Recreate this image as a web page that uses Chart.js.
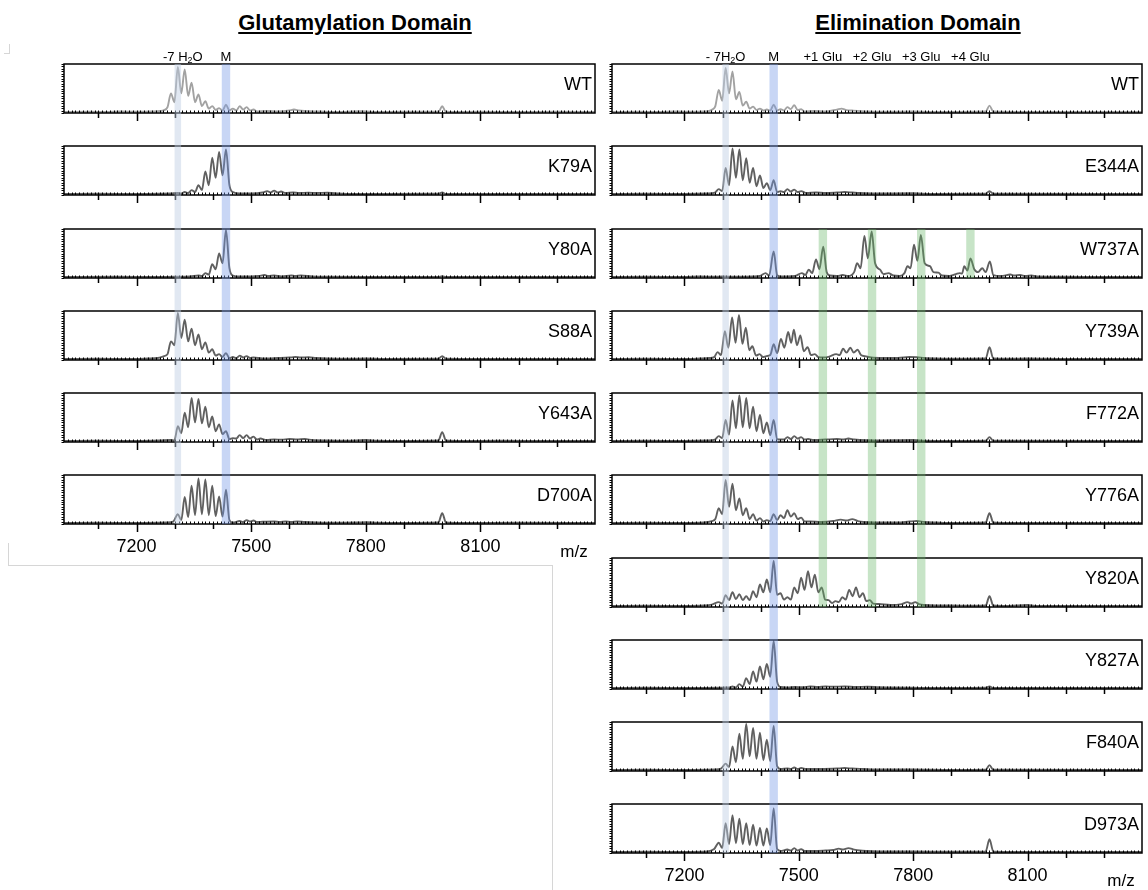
<!DOCTYPE html>
<html>
<head>
<meta charset="utf-8">
<script src="https://cdn.jsdelivr.net/npm/chart.js@4.4.1/dist/chart.umd.min.js"></script>
<style>
  html, body { margin: 0; padding: 0; background: #fff; }
  body { width: 1148px; height: 890px; position: relative; overflow: hidden;
         font-family: "Liberation Sans", Arial, Helvetica, sans-serif; }
  .title { position: absolute; top: 10px; line-height: 25px; font-size: 22px; font-weight: bold;
           text-decoration: underline; white-space: nowrap; transform: translateX(-50%); }
  canvas { position: absolute; }
  .rule { position: absolute; background: #d6d6d6; }
</style>
</head>
<body>
<div class="title" style="left:355px">Glutamylation Domain</div>
<div class="title" style="left:918px">Elimination Domain</div>
<div class="rule" style="left:9px;top:44px;width:1px;height:9px"></div>
<div class="rule" style="left:4px;top:53px;width:6px;height:1px"></div>
<div class="rule" style="left:8px;top:543px;width:1px;height:22px"></div>
<div class="rule" style="left:8px;top:565px;width:545px;height:1px"></div>
<div class="rule" style="left:552px;top:565px;width:1px;height:325px"></div>
<script>
// m/z axis
const mzRange = [7010, 8400];
const tickMz = [7100, 7200, 7300, 7400, 7500, 7600, 7700, 7800, 7900, 8000, 8100, 8200, 8300];
const labelledMz = [7200, 7500, 7800, 8100];

// marker masses
const waterLossMz = 7308;
const parentMz = 7434;
const gluMz = [7563, 7692, 7821, 7950];

const glutNames = ['WT', 'K79A', 'Y80A', 'S88A', 'Y643A', 'D700A'];
const elimNames = ['WT', 'E344A', 'W737A', 'Y739A', 'F772A', 'Y776A', 'Y820A', 'Y827A', 'F840A', 'D973A'];
const glutMarkText = ['-7 H_2O', 'M'];
const elimMarkText = ['- 7H_2O', 'M', '+1 Glu', '+2 Glu', '+3 Glu', '+4 Glu'];

// spectra as [m/z, relative intensity]
const glutWT = [[7010,2],[7080,2.5],[7120,2],[7160,3],[7200,2.5],[7240,3],[7262,4],[7272,6],[7281,12],[7290,40],[7299,22],[7308,94],[7317,40],[7326,89],[7335,35],[7344,62],[7353,22],[7362,38],[7371,14],[7380,24],[7389,9],[7398,14],[7407,6],[7416,10],[7425,5],[7434,17],[7443,5],[7452,9],[7461,5],[7470,14],[7479,7],[7488,12],[7497,5],[7506,7],[7515,3],[7540,4],[7570,3],[7600,5],[7612,7],[7625,5],[7640,4],[7680,3],[7720,2],[7790,3.5],[7830,2],[7900,2.5],[7980,2.5],[7992,4],[8000,14],[8008,4],[8020,2],[8100,2.5],[8200,2],[8300,2.5],[8400,2]];
const glutK79A = [[7010,2],[7100,2.5],[7200,2],[7260,2.5],[7290,3],[7308,4],[7317,3],[7326,6],[7335,4],[7344,10],[7353,6],[7362,20],[7371,10],[7380,48],[7389,20],[7398,76],[7407,35],[7416,88],[7425,40],[7434,93],[7443,20],[7452,6],[7470,3],[7500,3],[7530,5],[7542,8],[7551,5],[7560,9],[7569,5],[7578,7],[7590,4],[7610,5],[7625,4],[7650,4.5],[7670,4],[7700,4.5],[7730,3],[7760,2],[7850,2],[7990,2.5],[8000,5],[8010,2],[8100,2],[8250,2],[8400,2]];
const glutY80A = [[7010,2],[7150,2.5],[7250,2],[7300,2.5],[7340,3],[7362,5],[7371,4],[7380,10],[7389,7],[7398,28],[7407,18],[7416,50],[7425,30],[7434,98],[7443,20],[7452,5],[7470,3],[7500,3],[7520,4],[7535,6],[7545,4],[7560,5],[7580,3],[7605,5],[7615,4],[7630,5],[7660,3],[7700,2.5],[7800,2],[7990,2],[8000,3.5],[8010,2],[8100,2],[8400,2]];
const glutS88A = [[7010,2],[7100,2.5],[7180,2],[7230,3],[7255,4],[7272,8],[7281,12],[7290,38],[7299,30],[7308,96],[7317,45],[7326,82],[7335,38],[7344,64],[7353,30],[7362,52],[7371,22],[7380,36],[7389,15],[7398,22],[7407,9],[7416,12],[7425,6],[7434,14],[7443,4],[7452,6],[7461,4],[7470,9],[7479,5],[7488,8],[7497,4],[7506,5],[7530,3],[7570,4],[7600,5],[7615,6],[7630,5],[7650,5.5],[7670,4],[7700,3],[7760,2.5],[7800,3],[7850,2],[7990,2.5],[8000,8],[8010,2.5],[8100,2],[8400,2]];
const glutY643A = [[7010,2],[7100,2.5],[7200,2],[7260,3],[7290,4],[7299,3],[7308,32],[7317,18],[7326,60],[7335,30],[7344,90],[7353,40],[7362,88],[7371,38],[7380,72],[7389,30],[7398,52],[7407,22],[7416,36],[7425,16],[7434,22],[7443,6],[7452,8],[7461,7],[7470,14],[7479,8],[7488,14],[7497,7],[7506,11],[7515,5],[7524,7],[7540,4],[7560,5],[7580,4.5],[7600,6],[7620,5],[7640,6],[7660,4],[7700,3],[7750,2.5],[7800,4],[7830,2.5],[7900,2],[7990,3],[8000,20],[8010,3],[8050,2],[8150,2.5],[8300,2],[8400,2]];
const glutD700A = [[7010,2],[7100,2.5],[7200,2],[7280,3],[7296,5],[7308,20],[7317,8],[7326,55],[7335,14],[7344,78],[7353,18],[7362,93],[7371,20],[7380,91],[7389,18],[7398,78],[7407,16],[7416,56],[7425,15],[7434,70],[7443,8],[7452,3],[7470,6],[7479,4],[7488,8],[7497,5],[7506,7],[7515,4],[7530,4.5],[7560,5],[7575,4],[7590,5],[7605,4],[7620,5],[7640,4],[7670,3],[7700,2.5],[7780,3],[7800,3.5],[7830,2.5],[7900,2],[7990,3],[8000,22],[8010,3],[8050,2],[8200,2.5],[8400,2]];

const elimWT = [[7010,2],[7080,2.5],[7130,2],[7180,3],[7220,2.5],[7250,3],[7265,4],[7275,8],[7281,14],[7290,47],[7299,25],[7308,92],[7317,40],[7326,85],[7335,28],[7344,43],[7353,15],[7362,23],[7371,9],[7380,13],[7389,6],[7398,9],[7407,5],[7416,7],[7425,5],[7434,17],[7443,5],[7452,8],[7461,5],[7470,12],[7479,8],[7488,16],[7497,6],[7506,8],[7515,3],[7540,4],[7570,3],[7600,7],[7612,9],[7625,6],[7640,5],[7680,3],[7720,2.5],[7800,3],[7850,2],[7990,3],[8000,15],[8010,3],[8100,2],[8400,2]];
const elimE344A = [[7010,2],[7100,2.5],[7200,2],[7260,3],[7280,5],[7290,12],[7299,8],[7308,55],[7317,20],[7326,95],[7335,35],[7344,93],[7353,30],[7362,75],[7371,25],[7380,55],[7389,18],[7398,40],[7407,14],[7416,24],[7425,10],[7434,30],[7443,6],[7452,8],[7461,6],[7470,12],[7479,7],[7488,11],[7497,6],[7506,8],[7520,4],[7545,5],[7570,4],[7600,5],[7620,6],[7640,5],[7660,4],[7700,3],[7800,3.5],[7850,2],[7990,2.5],[8000,8],[8010,2.5],[8400,2]];
const elimW737A = [[7010,2],[7100,2.5],[7200,2],[7240,3],[7280,2.5],[7300,3],[7340,2.5],[7380,3],[7398,4],[7413,10],[7422,5],[7434,54],[7443,6],[7452,3],[7470,3],[7490,4],[7508,10],[7517,6],[7526,17],[7535,10],[7545,38],[7554,18],[7564,64],[7573,12],[7582,5],[7600,4],[7615,6],[7630,4],[7645,12],[7653,30],[7662,20],[7672,86],[7681,40],[7691,95],[7700,30],[7713,17],[7722,8],[7735,10],[7748,5],[7765,4],[7777,10],[7785,24],[7793,20],[7802,68],[7811,35],[7820,88],[7830,30],[7844,24],[7853,12],[7866,11],[7875,5],[7895,4],[7912,8],[7922,10],[7928,9],[7934,24],[7942,15],[7950,40],[7960,18],[7970,12],[7981,20],[7990,12],[8001,34],[8010,6],[8030,4],[8055,7],[8065,5],[8080,6],[8095,4],[8110,5],[8125,3],[8200,2.5],[8300,2],[8400,2]];
const elimY739A = [[7010,2],[7100,2.5],[7200,2],[7240,3],[7265,4],[7278,6],[7287,16],[7296,10],[7306,59],[7315,25],[7325,87],[7334,35],[7343,92],[7352,33],[7361,66],[7370,20],[7378,28],[7388,9],[7397,12],[7406,6],[7415,8],[7425,10],[7434,32],[7443,14],[7453,43],[7462,25],[7472,57],[7480,35],[7487,62],[7495,30],[7504,50],[7513,18],[7523,26],[7532,10],[7542,12],[7551,6],[7565,5],[7580,7],[7598,12],[7607,10],[7616,23],[7625,15],[7635,25],[7644,15],[7654,21],[7663,10],[7673,8],[7690,5],[7720,4],[7760,4],[7790,6],[7810,5.5],[7830,4],[7860,3],[7900,2.5],[7990,3],[8000,26],[8010,3],[8050,2.5],[8100,3],[8200,2],[8400,2]];
const elimF772A = [[7010,2],[7100,2.5],[7200,2],[7260,3],[7280,5],[7290,12],[7299,8],[7308,45],[7317,15],[7326,85],[7335,28],[7344,95],[7353,30],[7362,90],[7371,28],[7380,72],[7389,22],[7398,55],[7407,18],[7416,40],[7425,14],[7434,45],[7443,6],[7452,5],[7461,5],[7470,10],[7479,6],[7488,12],[7497,7],[7506,10],[7515,5],[7524,6],[7540,4],[7570,5],[7600,6],[7615,5],[7630,7],[7645,5],[7660,4],[7700,3],[7800,4],[7830,2.5],[7900,2],[7990,2.5],[8000,10],[8010,2.5],[8400,2]];
const elimY776A = [[7010,2],[7100,2.5],[7200,2],[7250,3],[7272,6],[7281,10],[7290,32],[7299,20],[7308,90],[7317,35],[7326,82],[7335,28],[7344,52],[7353,18],[7362,32],[7371,10],[7380,20],[7389,7],[7398,12],[7407,5],[7416,8],[7425,6],[7434,20],[7443,8],[7452,18],[7461,12],[7470,28],[7479,15],[7488,22],[7497,10],[7506,13],[7515,5],[7530,5],[7560,4],[7590,6],[7610,9],[7625,7],[7640,10],[7655,6],[7670,4],[7700,3],[7760,3],[7790,5],[7810,6],[7830,4],[7860,3],[7900,2],[7990,3],[8000,22],[8010,3],[8050,2],[8400,2]];
const elimY820A = [[7010,2],[7100,2.5],[7200,2],[7250,3],[7272,5],[7290,10],[7299,7],[7308,24],[7317,14],[7326,30],[7335,16],[7344,26],[7353,14],[7362,22],[7371,14],[7380,32],[7389,20],[7398,46],[7407,30],[7416,56],[7425,30],[7434,94],[7443,25],[7452,28],[7461,15],[7470,20],[7479,15],[7488,40],[7497,28],[7506,60],[7515,35],[7524,73],[7533,40],[7542,66],[7551,30],[7560,40],[7569,15],[7578,14],[7587,8],[7596,12],[7605,10],[7614,20],[7623,15],[7632,35],[7641,22],[7650,40],[7659,20],[7668,28],[7677,12],[7686,14],[7695,7],[7710,6],[7740,4],[7770,6],[7785,10],[7795,7],[7805,10],[7815,6],[7830,4],[7860,3],[7900,3],[7950,2.5],[7990,3],[8000,22],[8010,3],[8050,2],[8100,4],[8120,2],[8400,2]];
const elimY827A = [[7010,2],[7100,2.5],[7200,2],[7290,2.5],[7308,3],[7317,3],[7326,5],[7335,3],[7344,10],[7353,5],[7362,22],[7371,10],[7380,36],[7389,15],[7398,46],[7407,20],[7416,51],[7425,25],[7434,98],[7443,15],[7452,4],[7470,3],[7490,4],[7510,3.5],[7530,5],[7550,4],[7570,5],[7590,4.5],[7620,5],[7650,4],[7680,4.5],[7710,3.5],[7740,3],[7800,2.5],[7900,2],[7990,2.5],[8000,5],[8010,2],[8400,2]];
const elimF840A = [[7010,2],[7100,2.5],[7200,2],[7280,3],[7296,5],[7308,15],[7317,8],[7326,50],[7335,18],[7344,76],[7353,25],[7362,96],[7371,30],[7380,88],[7389,25],[7398,78],[7407,22],[7416,64],[7425,20],[7434,92],[7443,10],[7452,4],[7470,5],[7479,4],[7488,7],[7497,4],[7506,6],[7520,4],[7560,4],[7600,5],[7620,6],[7640,5],[7670,4],[7700,3],[7800,3],[7900,2],[7990,2.5],[8000,12],[8010,2.5],[8400,2]];
const elimD973A = [[7010,2],[7100,2.5],[7200,2],[7260,3],[7278,8],[7290,21],[7299,10],[7308,61],[7317,18],[7326,77],[7335,20],[7344,70],[7353,18],[7362,61],[7371,16],[7380,58],[7389,15],[7398,51],[7407,15],[7416,50],[7425,16],[7434,91],[7443,8],[7452,4],[7470,7],[7479,5],[7488,10],[7497,5],[7506,8],[7515,4],[7540,4],[7570,5],[7590,6],[7605,9],[7615,7],[7630,10],[7645,7],[7660,5],[7680,4],[7720,3],[7800,3],[7900,2.5],[7990,3],[8000,28],[8010,3],[8050,2],[8400,2]];

const glutSpectra = [glutWT, glutK79A, glutY80A, glutS88A, glutY643A, glutD700A];
const elimSpectra = [elimWT, elimE344A, elimW737A, elimY739A, elimF772A, elimY776A, elimY820A, elimY827A, elimF840A, elimD973A];

const FONT = '"Liberation Sans", Arial, Helvetica, sans-serif';
const bandColors = {
  water: 'rgba(188, 203, 226, 0.45)',
  parent: 'rgba(118, 152, 230, 0.40)',
  glu: 'rgba(100, 180, 100, 0.36)'
};

const firstTop = 64;   // top edge of the first box
const pitch = 82.25;   // distance between stacked panels
const boxH = 49;
const padL = 14, padR = 6;

const columns = [
  {
    left: 64, right: 595, names: glutNames, spectra: glutSpectra,
    marks: glutMarkText, markMz: [waterLossMz + 13, parentMz],
    bands: [
      { mz: waterLossMz, span: 17, color: bandColors.water, from: 0, to: 5 },
      { mz: parentMz, span: 22, color: bandColors.parent, from: 0, to: 5 }
    ]
  },
  {
    left: 612, right: 1142, names: elimNames, spectra: elimSpectra,
    marks: elimMarkText, markMz: [waterLossMz, parentMz, ...gluMz],
    bands: [
      { mz: waterLossMz, span: 17, color: bandColors.water, from: 0, to: 9 },
      { mz: parentMz, span: 22, color: bandColors.parent, from: 0, to: 9 },
      { mz: gluMz[0], span: 22, color: bandColors.glu, from: 2, to: 6 },
      { mz: gluMz[1], span: 22, color: bandColors.glu, from: 2, to: 6 },
      { mz: gluMz[2], span: 22, color: bandColors.glu, from: 2, to: 6 },
      { mz: gluMz[3], span: 22, color: bandColors.glu, from: 2, to: 2 }
    ]
  }
];

// text with "_2" style subscripts, centred on cx
function drawMarkText(ctx, text, cx, cy) {
  const parts = text.split(/_(\d)/).map((t, k) => ({ t, sub: k % 2 === 1 })).filter(p => p.t);
  const fontOf = p => (p.sub ? '9px ' : '13px ') + FONT;
  let total = 0;
  parts.forEach(p => { ctx.font = fontOf(p); total += ctx.measureText(p.t).width; });
  let px = cx - total / 2;
  ctx.textAlign = 'left';
  ctx.textBaseline = 'middle';
  parts.forEach(p => {
    ctx.font = fontOf(p);
    ctx.fillText(p.t, px, cy + (p.sub ? 4 : 0));
    px += ctx.measureText(p.t).width;
  });
}

function panelDecor(col, index) {
  const first = index === 0;
  const last = index === col.names.length - 1;
  return {
    id: 'panelDecor',
    afterDatasetsDraw(chart) {
      const { ctx, chartArea: a, scales: { x, y } } = chart;
      const H = chart.height;
      ctx.save();
      ctx.strokeStyle = '#000';

      // fine ruler along the intensity edge
      ctx.lineWidth = 1;
      ctx.beginPath();
      for (let v = 0; v <= 100; v += 5) {
        const py = Math.round(y.getPixelForValue(v)) + 0.5;
        ctx.moveTo(a.left - 2.5, py);
        ctx.lineTo(a.left, py);
      }
      // fine ruler along the baseline
      for (let m = mzRange[0] + 10; m < mzRange[1]; m += 10) {
        const px = Math.round(x.getPixelForValue(m)) + 0.5;
        ctx.moveTo(px, a.bottom - 2.5);
        ctx.lineTo(px, a.bottom);
      }
      ctx.stroke();

      // frame
      ctx.lineWidth = 1.5;
      ctx.strokeRect(a.left, a.top, a.right - a.left, a.bottom - a.top);

      // m/z tick marks below the frame
      ctx.beginPath();
      tickMz.forEach(m => {
        const px = Math.round(x.getPixelForValue(m)) + 0.5;
        const len = labelledMz.includes(m) ? 8 : 5;
        ctx.moveTo(px, a.bottom);
        ctx.lineTo(px, a.bottom + len);
      });
      ctx.stroke();

      // highlight bands, continuous across the stacked panels
      col.bands.forEach(b => {
        if (index < b.from || index > b.to) return;
        const top = index === b.from ? a.top : 0;
        const bottom = index === b.to ? a.bottom : H;
        const x0 = x.getPixelForValue(b.mz - b.span / 2);
        const x1 = x.getPixelForValue(b.mz + b.span / 2);
        ctx.fillStyle = b.color;
        ctx.fillRect(x0, top, x1 - x0, bottom - top);
      });

      // variant name
      ctx.fillStyle = '#000';
      ctx.font = '18px ' + FONT;
      ctx.textAlign = 'right';
      ctx.textBaseline = 'middle';
      ctx.fillText(col.names[index], a.right - 3, a.top + 21);

      if (first) {
        col.marks.forEach((t, k) => drawMarkText(ctx, t, x.getPixelForValue(col.markMz[k]), a.top - 7));
      }

      if (last) {
        ctx.font = '18px ' + FONT;
        ctx.textAlign = 'center';
        labelledMz.forEach(m => ctx.fillText(String(m), x.getPixelForValue(m), a.bottom + 23));
        ctx.font = '17px ' + FONT;
        ctx.fillText('m/z', x.getPixelForValue(8345), a.bottom + 28);
      }
      ctx.restore();
    }
  };
}

columns.forEach(col => {
  const n = col.names.length;
  const tops = col.names.map((_, i) => Math.round(firstTop + i * pitch));
  const canvasTops = tops.map((t, i) => t - (i === 0 ? 28 : 2));

  col.names.forEach((name, i) => {
    const last = i === n - 1;
    const cTop = canvasTops[i];
    const h = last ? tops[i] + boxH + 42 - cTop : canvasTops[i + 1] - cTop;
    const padTop = tops[i] - cTop;

    const canvas = document.createElement('canvas');
    canvas.width = col.right - col.left + padL + padR;
    canvas.height = h;
    canvas.style.left = (col.left - padL) + 'px';
    canvas.style.top = cTop + 'px';
    document.body.appendChild(canvas);

    new Chart(canvas, {
      type: 'line',
      data: {
        datasets: [{
          data: col.spectra[i].map(([mz, v]) => ({ x: mz, y: v })),
          borderColor: name === 'WT' ? '#a2a2a2' : '#606060',
          borderWidth: 1.9,
          pointRadius: 0,
          cubicInterpolationMode: 'monotone',
          fill: false
        }]
      },
      options: {
        responsive: false,
        animation: false,
        devicePixelRatio: 1,
        layout: { padding: { left: padL, right: padR, top: padTop, bottom: h - padTop - boxH } },
        plugins: { legend: { display: false }, tooltip: { enabled: false } },
        scales: {
          x: { type: 'linear', min: mzRange[0], max: mzRange[1], display: false },
          y: { min: 0, max: 100, display: false }
        }
      },
      plugins: [panelDecor(col, i)]
    });
  });
});
</script>
</body>
</html>
